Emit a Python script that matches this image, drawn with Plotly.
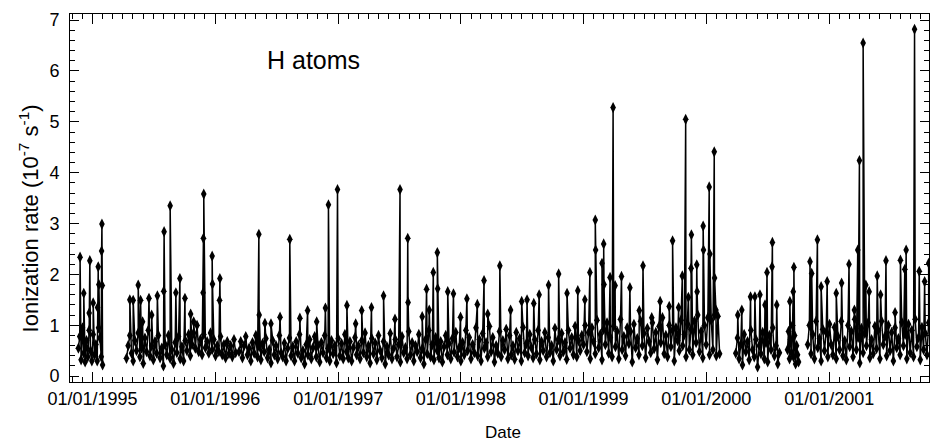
import pandas as pd
import plotly.graph_objects as go

# ---- data (day offsets from 1995-01-01) ----
ORIGIN = "1995-01-01"

# segments: (start_day, step_days)
seg1_start, seg1_step = -42, 4
seg1_vals = [0.55, 0.78, 0.32, 0.95, 0.45, 0.28, 0.7, 0.38, 0.9, 0.5, 0.3, 0.82, 0.42, 0.62, 0.3, 0.95, 0.75, 0.38, 0.22]

seg2_start, seg2_step = 101, 5
seg2_vals = [0.35, 0.6, 0.8, 0.45, 0.3, 0.7, 0.5, 0.85, 0.38, 0.55, 0.25, 0.75, 0.48, 0.9, 0.4, 0.6, 0.32, 0.68, 0.45, 0.8,
             0.36, 0.55, 0.2, 0.62, 0.42, 0.8, 0.35, 0.52, 0.25, 0.66, 0.46, 0.78, 0.34, 0.58, 0.3, 0.7, 0.5, 0.82, 0.4, 0.62,
             0.85, 0.55, 1.0, 0.48, 0.72, 0.42, 0.82, 0.56, 0.68, 0.45, 0.85, 0.52, 0.72, 0.4, 0.6, 0.48, 0.78, 0.42, 0.62, 0.36,
             0.68, 0.44, 0.6, 0.38, 0.72, 0.46]

seg3_start, seg3_step = 436, 5
seg3_vals = [
    # 1996-03 .. 1997-03
    0.48, 0.68, 0.36, 0.6, 0.78, 0.42, 0.55, 0.3, 0.66, 0.45,
    0.8, 0.38, 0.58, 0.32, 0.64, 0.48, 0.74, 0.36, 0.52, 0.26,
    0.7, 0.42, 0.6, 0.34, 0.8, 0.46, 0.38, 0.65, 0.3, 0.55,
    0.75, 0.4, 0.58, 0.3, 0.68, 0.45, 0.82, 0.36, 0.5, 0.24,
    0.62, 0.42, 0.72, 0.34, 0.56, 0.78, 0.38, 0.6, 0.28, 0.66,
    0.46, 0.8, 0.36, 0.55, 0.3, 0.7, 0.44, 0.6, 0.26, 0.74,
    0.4, 0.64, 0.34, 0.82, 0.48, 0.36, 0.68, 0.3, 0.56, 0.76,
    0.42, 0.6, 0.34,
    # 1997-03 .. 1997-12
    0.7, 0.46, 0.85, 0.38, 0.6, 0.26, 0.74, 0.44, 0.65, 0.32,
    0.8, 0.5, 0.36, 0.68, 0.24, 0.58, 0.42, 0.84, 0.34, 0.55,
    0.72, 0.38, 0.62, 0.28, 0.78, 0.46, 0.56, 0.34, 0.88, 0.42,
    0.66, 0.3, 0.6, 0.48, 0.82, 0.36, 0.54, 0.24, 0.72, 0.44,
    0.9, 0.38, 0.62, 0.32, 0.76, 0.5, 0.36, 0.68, 0.28, 0.58,
    0.8, 0.42, 0.64, 0.34, 0.74, 0.47, 0.86, 0.38, 0.56, 0.3,
    # 1998
    0.66, 0.42, 0.9, 0.5, 0.76, 0.34, 0.62, 0.46, 0.95, 0.4,
    0.72, 0.3, 0.84, 0.55, 0.66, 0.38, 0.98, 0.48, 0.76, 0.28,
    0.6, 0.45, 0.88, 0.38, 0.7, 0.52, 0.92, 0.34, 0.8, 0.42,
    0.6, 0.33, 0.86, 0.5, 0.74, 0.3, 0.96, 0.46, 0.64, 0.4,
    0.82, 0.56, 0.36, 0.72, 0.44, 0.9, 0.32, 0.68, 0.5, 0.86,
    0.38, 0.76, 0.46, 0.6, 0.3, 0.94, 0.52, 0.72, 0.4, 0.84,
    0.48, 0.66, 0.33, 0.9, 0.55, 0.76, 0.42, 0.98, 0.38, 0.7,
    0.5, 0.8,
    # 1999 .. 2000-02
    0.62, 1.0, 0.48, 0.86, 0.34, 0.95, 0.68, 0.44, 1.1, 0.56,
    0.82, 0.32, 0.92, 0.62, 1.05, 0.45, 0.76, 0.38, 0.98, 0.58,
    0.88, 0.34, 1.12, 0.52, 0.78, 0.4, 0.95, 0.64, 0.88, 0.28,
    1.02, 0.56, 0.74, 0.42, 1.08, 0.6, 0.84, 0.36, 0.94, 0.68,
    0.46, 1.05, 0.54, 0.86, 0.32, 0.98, 0.66, 1.15, 0.44, 0.8,
    0.38, 1.0, 0.58, 0.9, 0.3, 0.95, 0.7, 0.5, 1.1, 0.6,
    0.82, 0.38, 1.02, 0.52, 0.92, 0.42, 1.08, 0.66, 1.2, 0.48,
    0.88, 0.36, 1.0, 0.62, 1.15, 0.42, 1.1, 0.52, 1.2, 0.4,
    1.18, 0.44,
]

seg4_start, seg4_step = 1914, 5
seg4_vals = [0.45, 0.75, 0.34, 0.62, 0.22, 0.82, 0.48, 0.68, 0.32, 0.9, 0.52, 0.38, 0.72, 0.18, 0.6, 0.44, 0.86, 0.34,
             0.66, 0.28, 0.8, 0.52, 0.95, 0.4, 0.6, 0.24, 0.46]

seg5_start, seg5_step = 2068, 3
seg5_vals = [0.52, 0.88, 0.34, 0.72, 0.46, 1.0, 0.38, 0.8, 0.24, 0.6, 0.42, 0.28]

seg6_start, seg6_step = 2128, 5
seg6_vals = [0.62, 1.0, 0.44, 0.82, 0.34, 1.08, 0.56, 0.74, 0.3, 0.92, 0.5, 0.86, 0.38, 1.02, 0.62, 0.42, 0.96, 0.34, 0.78, 0.52,
             1.08, 0.4, 0.7, 0.32, 1.0, 0.58, 0.88, 0.38, 1.12, 0.52, 0.76, 0.26, 0.94, 0.46, 0.84, 0.6, 1.05, 0.36, 0.72, 0.44,
             0.98, 0.54, 0.9, 0.34, 1.08, 0.62, 0.78, 0.4, 1.0, 0.5, 0.86, 0.3, 0.95, 0.56, 0.74, 0.42, 1.06, 0.6, 0.82, 0.34,
             1.02, 0.46, 0.9, 0.38, 1.12, 0.58, 0.76, 0.32, 0.96, 0.52, 0.84, 0.42, 1.05]

# spikes (day offset, value)
spike_days = [-37, -26, -10, -8, 2, 15, 17, 19, 27, 28, 29,
              111, 121, 136, 143, 149, 168, 176, 193, 212, 213, 231, 248, 260, 275, 292, 301,
              329, 330, 331, 356, 357, 378, 379,
              495, 496, 513, 531, 558, 587, 617, 640, 667, 693, 702, 729, 757, 783, 801, 830, 866, 900,
              915, 938, 939, 981, 994, 1002, 1014, 1026, 1027, 1057, 1074, 1095, 1114, 1145, 1165, 1176,
              1212, 1244, 1277, 1293, 1313, 1329, 1357, 1387, 1412, 1444, 1465, 1480, 1496, 1497, 1516,
              1521, 1522, 1540, 1549, 1555, 1574, 1599, 1627, 1638, 1664, 1689, 1716, 1726, 1744, 1755,
              1765, 1773, 1781, 1782, 1798, 1799, 1817, 1818, 1835, 1837, 1850, 1851, 1855,
              1920, 1932, 1958, 1971, 1986, 2001, 2007, 2022, 2023, 2036,
              2075, 2085, 2087,
              2135, 2140, 2157, 2168, 2186, 2213, 2229, 2251, 2267, 2277, 2282, 2293, 2301, 2311, 2335,
              2345, 2361, 2388, 2404, 2417, 2421, 2446, 2460, 2476, 2488]
spike_vals = [2.34, 1.63, 1.24, 2.27, 1.44, 1.35, 2.15, 1.8, 2.46, 2.99, 1.78,
              1.5, 1.49, 1.79, 1.49, 1.07, 1.53, 1.2, 1.58, 1.67, 2.84, 3.35, 1.64, 1.92, 1.53, 1.22, 1.07,
              1.64, 2.71, 3.58, 2.36, 1.81, 1.49, 1.92,
              2.79, 1.2, 1.04, 1.03, 1.16, 2.69, 1.14, 1.29, 1.07, 1.34, 3.37, 3.67, 1.39, 1.03, 1.29, 1.35, 1.58, 1.12,
              3.67, 2.71, 1.45, 1.17, 1.71, 1.3, 2.04, 2.43, 1.72, 1.66, 1.62, 1.16, 1.52, 1.41, 1.88, 1.22,
              2.17, 1.3, 1.47, 1.5, 1.43, 1.6, 1.79, 2.01, 1.63, 1.68, 1.5, 2.04, 3.07, 2.48, 2.22,
              2.6, 1.8, 1.94, 5.28, 1.78, 1.96, 1.74, 1.29, 2.17, 1.15, 1.47, 1.37, 2.66, 1.35, 1.97,
              5.05, 1.55, 2.12, 2.78, 2.19, 1.66, 2.95, 2.48, 3.72, 2.4, 4.41, 1.93, 1.3,
              1.2, 1.3, 1.56, 1.56, 1.6, 1.4, 2.04, 2.15, 2.63, 1.4,
              1.47, 1.66, 2.14,
              2.25, 2.02, 2.68, 1.76, 1.86, 1.63, 1.83, 2.2, 1.3, 2.48, 4.24, 6.55, 1.79, 1.66, 1.97,
              1.6, 2.27, 1.25, 2.28, 2.1, 2.48, 6.82, 2.06, 1.86, 2.22]

x_range = ["1994-10-26", "2001-10-25"]
annotation_text = "H atoms"
x_title = "Date"
y_title = "Ionization rate (10<sup>-7</sup> s<sup>-1</sup>)"

# ---- assemble series (segments separated by gaps) ----
segments = [(seg1_start, seg1_step, seg1_vals), (seg2_start, seg2_step, seg2_vals),
            (seg3_start, seg3_step, seg3_vals), (seg4_start, seg4_step, seg4_vals),
            (seg5_start, seg5_step, seg5_vals), (seg6_start, seg6_step, seg6_vals)]
origin = pd.Timestamp(ORIGIN)
xs, ys = [], []
for start, step, vals in segments:
    end = start + step * (len(vals) - 1)
    pts = [(start + i * step, v) for i, v in enumerate(vals)]
    pts += [(d, v) for d, v in zip(spike_days, spike_vals) if start - 2 <= d <= end + 2]
    pts.sort(key=lambda p: p[0])
    for d, v in pts:
        xs.append(origin + pd.Timedelta(days=d))
        ys.append(v)
    xs.append(origin + pd.Timedelta(days=end + 1))
    ys.append(None)

FONT = "Liberation Sans, Arial, Helvetica, sans-serif"

fig = go.Figure()
fig.add_trace(go.Scatter(
    x=xs, y=ys, mode="lines+markers", connectgaps=False,
    line=dict(color="black", width=1.5),
    marker=dict(symbol="diamond-tall", size=8, color="black"),
    showlegend=False, hoverinfo="skip"))

fig.add_annotation(text=annotation_text, xref="paper", yref="paper", x=0.283, y=0.875,
                   xanchor="center", yanchor="middle",
                   showarrow=False, font=dict(family=FONT, size=25, color="black"))
# axis titles placed as annotations
fig.add_annotation(text=y_title, xref="paper", yref="paper", x=-0.048, y=0.444, textangle=-90,
                   xanchor="center", yanchor="middle", showarrow=False,
                   font=dict(family=FONT, size=22, color="black"))
fig.add_annotation(text=x_title, xref="paper", yref="paper", x=0.504, y=-0.138,
                   xanchor="center", yanchor="middle", showarrow=False,
                   font=dict(family=FONT, size=17, color="black"))

fig.update_layout(
    width=930, height=443,
    margin=dict(l=70, r=1, t=14, b=61),
    paper_bgcolor="white", plot_bgcolor="white",
    font=dict(family=FONT, size=18, color="black"),
    xaxis=dict(
        type="date", range=x_range, tick0="1995-01-01", dtick="M12", tickformat="%m/%d/%Y",
        ticks="inside", ticklen=10, tickwidth=1, tickcolor="black",
        showline=True, linecolor="black", linewidth=1, mirror="ticks",
        showgrid=False, zeroline=False, ticklabelstandoff=0, automargin=False,
        minor=dict(dtick="M1", tick0="1995-01-01", ticks="inside", ticklen=5, tickcolor="black", showgrid=False),
        tickfont=dict(size=18)),
    yaxis=dict(
        range=[-0.115, 7.12], tick0=0, dtick=1,
        ticks="inside", ticklen=9, tickwidth=1, tickcolor="black",
        showline=True, linecolor="black", linewidth=1, mirror="ticks",
        showgrid=False, zeroline=False, ticklabelstandoff=6, automargin=False,
        minor=dict(dtick=0.2, tick0=0, ticks="inside", ticklen=5, tickcolor="black", showgrid=False),
        tickfont=dict(size=18)),
)

fig.write_html("out.html", config={"displayModeBar": False},
               post_script="document.body.style.margin='0';document.body.style.padding='0';")
